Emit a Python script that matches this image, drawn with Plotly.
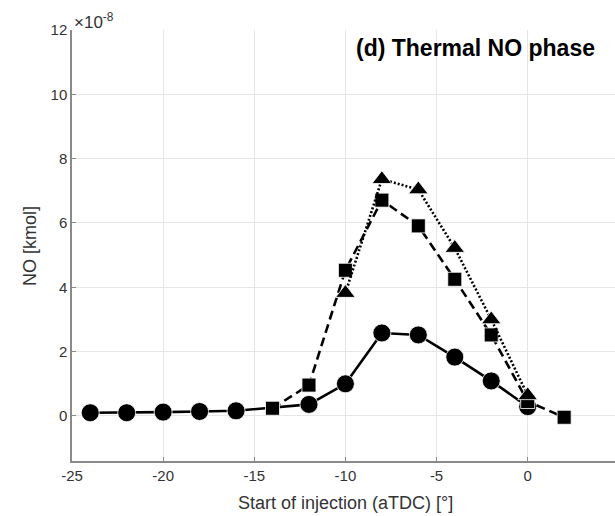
import plotly.graph_objects as go

# Start of injection [deg aTDC]
soi_circle = [-24, -22, -20, -18, -16, -12, -10, -8, -6, -4, -2, 0]
no_circle = [0.10, 0.10, 0.12, 0.14, 0.16, 0.36, 1.00, 2.58, 2.52, 1.83, 1.09, 0.29]

soi_square = [-14, -12, -10, -8, -6, -4, -2, 0, 2]
no_square = [0.24, 0.96, 4.53, 6.71, 5.91, 4.25, 2.52, 0.45, -0.04]

soi_triangle = [-10, -8, -6, -4, -2, 0]
no_triangle = [3.82, 7.36, 7.04, 5.22, 3.00, 0.64]

x_ticks = [-25, -20, -15, -10, -5, 0, 5]
x_tick_text = ["-25", "-20", "-15", "-10", "-5", "0", "5"]
y_ticks = [0, 2, 4, 6, 8, 10, 12]
y_tick_text = ["0", "2", "4", "6", "8", "10", "12"]

W, H = 615, 516
ML, MR, MT, MB = 72, 0, 30, 55
PW, PH = W - ML - MR, H - MT - MB
FONT = "Liberation Sans, Arial"

fig = go.Figure()
fig.add_trace(go.Scatter(
    x=soi_circle, y=no_circle, mode="lines+markers",
    line=dict(color="black", width=2.6, dash="solid"),
    marker=dict(symbol="circle", size=18, color="black", line=dict(color="white", width=0.8)),
    showlegend=False))
fig.add_trace(go.Scatter(
    x=soi_square, y=no_square, mode="lines+markers",
    line=dict(color="black", width=2.6, dash="9px,5px"),
    marker=dict(symbol="square", size=14, color="black", line=dict(color="white", width=0.8)),
    showlegend=False))
fig.add_trace(go.Scatter(
    x=soi_triangle, y=no_triangle, mode="lines+markers",
    line=dict(color="black", width=2.6, dash="2px,2px"),
    marker=dict(symbol="triangle-up", size=17, color="black", line=dict(color="white", width=0.8)),
    showlegend=False))

axis_common = dict(
    showgrid=True, gridcolor="#e6e6e6", gridwidth=1,
    showline=True, linecolor="#8a8a8a", linewidth=1.5,
    ticks="inside", ticklen=4, tickcolor="#8a8a8a", tickwidth=1,
    zeroline=False, mirror=False,
    tickfont=dict(family=FONT, size=15, color="#333333"),
)

fig.update_layout(
    width=W, height=H,
    margin=dict(l=ML, r=MR, t=MT, b=MB),
    paper_bgcolor="white", plot_bgcolor="white",
    xaxis=dict(range=[-25, 4.79], tickvals=x_ticks, ticktext=x_tick_text, **axis_common),
    yaxis=dict(range=[-1.4, 12], tickvals=y_ticks, ticktext=y_tick_text, **axis_common),
    annotations=[
        dict(text="×10<sup>-8</sup>", xref="paper", yref="paper", x=0, y=1,
             xanchor="left", yanchor="bottom", yshift=-4, showarrow=False,
             font=dict(family=FONT, size=17, color="#333333")),
        dict(text="<b>(d) Thermal NO phase</b>", xref="paper", yref="paper",
             x=(475 - ML) / PW, y=1 - (48 - MT) / PH,
             xanchor="center", yanchor="middle", showarrow=False,
             font=dict(family=FONT, size=23, color="black")),
        dict(text="Start of injection (aTDC) [°]", xref="paper", yref="paper",
             x=(345.5 - ML) / PW, y=-(503 - (H - MB)) / PH,
             xanchor="center", yanchor="middle", showarrow=False,
             font=dict(family=FONT, size=18, color="#333333")),
        dict(text="NO [kmol]", xref="paper", yref="paper",
             x=-(ML - 30) / PW, y=1 - (246 - MT) / PH,
             xanchor="center", yanchor="middle", textangle=-90, showarrow=False,
             font=dict(family=FONT, size=18, color="#333333")),
    ],
)

fig.write_html("out.html")
